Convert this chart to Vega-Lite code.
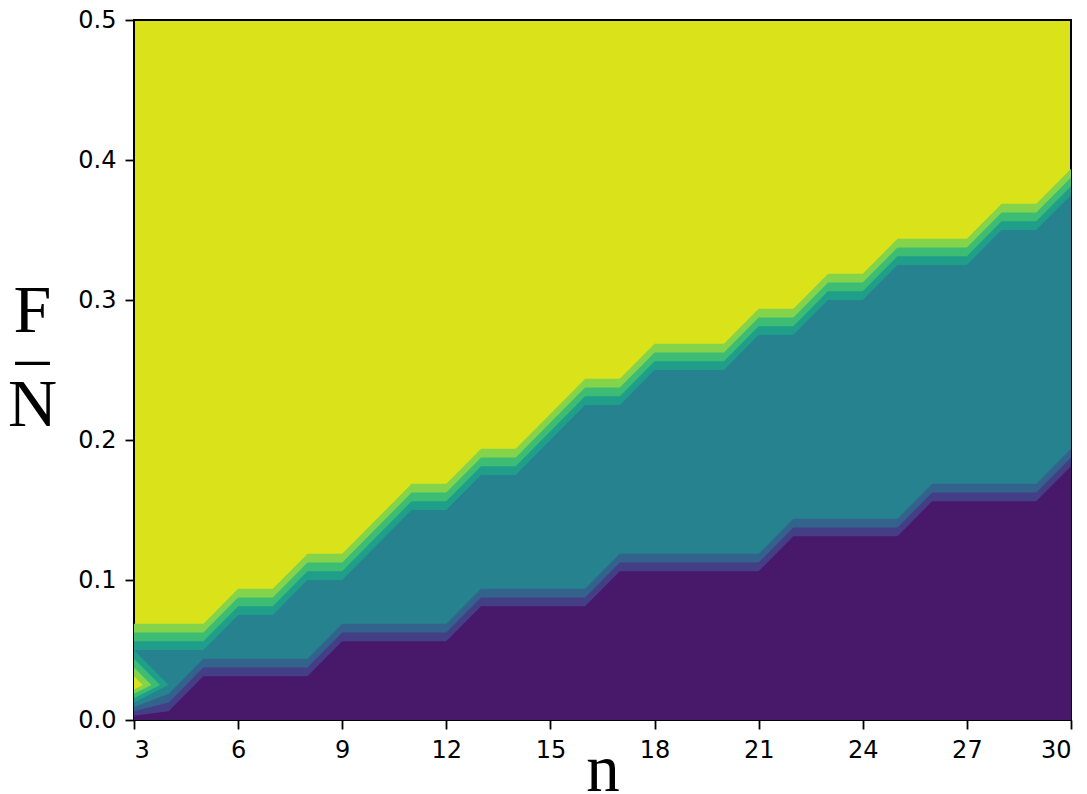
{
  "$schema": "https://vega.github.io/schema/vega-lite/v6.json",
  "autosize": {"type": "none"},
  "width": 937,
  "height": 700,
  "padding": {"left": 134, "top": 20, "right": 16, "bottom": 74},
  "background": "white",
  "config": {
    "view": {"stroke": "black", "strokeWidth": 2, "fill": "#dae219"},
    "axis": {
      "domain": false,
      "grid": false,
      "tickColor": "black",
      "tickWidth": 1.8,
      "tickSize": 9,
      "labelFont": "DejaVu Sans",
      "labelFontSize": 24,
      "labelColor": "black",
      "titleColor": "black",
      "titleFontWeight": "normal"
    }
  },
  "datasets": {
    "bounds": [
      {"n": 3, "u50": 0.05, "u625": 0.05625, "u75": 0.0625, "u875": 0.06875, "d125": 0.003125, "d25": 0.00625, "d375": 0.009375},
      {"n": 4, "u50": 0.05, "u625": 0.05625, "u75": 0.0625, "u875": 0.06875, "d125": 0.00625, "d25": 0.0125, "d375": 0.01875},
      {"n": 5, "u50": 0.05, "u625": 0.05625, "u75": 0.0625, "u875": 0.06875, "d125": 0.03125, "d25": 0.0375, "d375": 0.04375},
      {"n": 6, "u50": 0.075, "u625": 0.08125, "u75": 0.0875, "u875": 0.09375, "d125": 0.03125, "d25": 0.0375, "d375": 0.04375},
      {"n": 7, "u50": 0.075, "u625": 0.08125, "u75": 0.0875, "u875": 0.09375, "d125": 0.03125, "d25": 0.0375, "d375": 0.04375},
      {"n": 8, "u50": 0.1, "u625": 0.10625, "u75": 0.1125, "u875": 0.11875, "d125": 0.03125, "d25": 0.0375, "d375": 0.04375},
      {"n": 9, "u50": 0.1, "u625": 0.10625, "u75": 0.1125, "u875": 0.11875, "d125": 0.05625, "d25": 0.0625, "d375": 0.06875},
      {"n": 10, "u50": 0.125, "u625": 0.13125, "u75": 0.1375, "u875": 0.14375, "d125": 0.05625, "d25": 0.0625, "d375": 0.06875},
      {"n": 11, "u50": 0.15, "u625": 0.15625, "u75": 0.1625, "u875": 0.16875, "d125": 0.05625, "d25": 0.0625, "d375": 0.06875},
      {"n": 12, "u50": 0.15, "u625": 0.15625, "u75": 0.1625, "u875": 0.16875, "d125": 0.05625, "d25": 0.0625, "d375": 0.06875},
      {"n": 13, "u50": 0.175, "u625": 0.18125, "u75": 0.1875, "u875": 0.19375, "d125": 0.08125, "d25": 0.0875, "d375": 0.09375},
      {"n": 14, "u50": 0.175, "u625": 0.18125, "u75": 0.1875, "u875": 0.19375, "d125": 0.08125, "d25": 0.0875, "d375": 0.09375},
      {"n": 15, "u50": 0.2, "u625": 0.20625, "u75": 0.2125, "u875": 0.21875, "d125": 0.08125, "d25": 0.0875, "d375": 0.09375},
      {"n": 16, "u50": 0.225, "u625": 0.23125, "u75": 0.2375, "u875": 0.24375, "d125": 0.08125, "d25": 0.0875, "d375": 0.09375},
      {"n": 17, "u50": 0.225, "u625": 0.23125, "u75": 0.2375, "u875": 0.24375, "d125": 0.10625, "d25": 0.1125, "d375": 0.11875},
      {"n": 18, "u50": 0.25, "u625": 0.25625, "u75": 0.2625, "u875": 0.26875, "d125": 0.10625, "d25": 0.1125, "d375": 0.11875},
      {"n": 19, "u50": 0.25, "u625": 0.25625, "u75": 0.2625, "u875": 0.26875, "d125": 0.10625, "d25": 0.1125, "d375": 0.11875},
      {"n": 20, "u50": 0.25, "u625": 0.25625, "u75": 0.2625, "u875": 0.26875, "d125": 0.10625, "d25": 0.1125, "d375": 0.11875},
      {"n": 21, "u50": 0.275, "u625": 0.28125, "u75": 0.2875, "u875": 0.29375, "d125": 0.10625, "d25": 0.1125, "d375": 0.11875},
      {"n": 22, "u50": 0.275, "u625": 0.28125, "u75": 0.2875, "u875": 0.29375, "d125": 0.13125, "d25": 0.1375, "d375": 0.14375},
      {"n": 23, "u50": 0.3, "u625": 0.30625, "u75": 0.3125, "u875": 0.31875, "d125": 0.13125, "d25": 0.1375, "d375": 0.14375},
      {"n": 24, "u50": 0.3, "u625": 0.30625, "u75": 0.3125, "u875": 0.31875, "d125": 0.13125, "d25": 0.1375, "d375": 0.14375},
      {"n": 25, "u50": 0.325, "u625": 0.33125, "u75": 0.3375, "u875": 0.34375, "d125": 0.13125, "d25": 0.1375, "d375": 0.14375},
      {"n": 26, "u50": 0.325, "u625": 0.33125, "u75": 0.3375, "u875": 0.34375, "d125": 0.15625, "d25": 0.1625, "d375": 0.16875},
      {"n": 27, "u50": 0.325, "u625": 0.33125, "u75": 0.3375, "u875": 0.34375, "d125": 0.15625, "d25": 0.1625, "d375": 0.16875},
      {"n": 28, "u50": 0.35, "u625": 0.35625, "u75": 0.3625, "u875": 0.36875, "d125": 0.15625, "d25": 0.1625, "d375": 0.16875},
      {"n": 29, "u50": 0.35, "u625": 0.35625, "u75": 0.3625, "u875": 0.36875, "d125": 0.15625, "d25": 0.1625, "d375": 0.16875},
      {"n": 30, "u50": 0.375, "u625": 0.38125, "u75": 0.3875, "u875": 0.39375, "d125": 0.18125, "d25": 0.1875, "d375": 0.19375}
    ],
    "spot": [
      {"n": 3, "level": 0.5, "lo": 0.0125, "hi": 0.05},
      {"n": 4, "level": 0.5, "lo": 0.025, "hi": 0.025},
      {"n": 3, "level": 0.625, "lo": 0.015625, "hi": 0.04375},
      {"n": 3.75, "level": 0.625, "lo": 0.025, "hi": 0.025},
      {"n": 3, "level": 0.75, "lo": 0.01875, "hi": 0.0375},
      {"n": 3.5, "level": 0.75, "lo": 0.025, "hi": 0.025},
      {"n": 3, "level": 0.875, "lo": 0.021875, "hi": 0.03125},
      {"n": 3.25, "level": 0.875, "lo": 0.025, "hi": 0.025}
    ]
  },
  "encoding": {
    "x": {
      "field": "n", "type": "quantitative",
      "scale": {"domain": [3, 30], "nice": false, "zero": false},
      "axis": {
        "values": [3, 6, 9, 12, 15, 18, 21, 24, 27, 30],
        "labelPadding": 9,
        "title": "n",
        "titleFont": "Liberation Serif",
        "titleFontSize": 67,
        "titleBaseline": "alphabetic",
        "titleY": 70
      }
    }
  },
  "layer": [
    {
      "data": {"name": "bounds"},
      "mark": {"type": "area", "color": "#84d44b", "interpolate": "linear"},
      "encoding": {
        "y": {"field": "u875", "type": "quantitative", "scale": {"domain": [0, 0.5], "nice": false},
          "axis": {
            "values": [0, 0.1, 0.2, 0.3, 0.4, 0.5],
            "format": ".1f",
            "labelPadding": 9,
            "title": ["F", "–", "N"],
            "titleAngle": 0,
            "titleFont": "Liberation Serif",
            "titleFontSize": 68,
            "titleLineHeight": 47,
            "titleAlign": "center",
            "titleBaseline": "middle",
            "titleX": -102,
            "titleY": 291
          }
        },
        "y2": {"datum": 0}
      }
    },
    {
      "data": {"name": "bounds"},
      "mark": {"type": "area", "color": "#3dbc74"},
      "encoding": {"y": {"field": "u75", "type": "quantitative"}, "y2": {"datum": 0}}
    },
    {
      "data": {"name": "bounds"},
      "mark": {"type": "area", "color": "#1f9e89"},
      "encoding": {"y": {"field": "u625", "type": "quantitative"}, "y2": {"datum": 0}}
    },
    {
      "data": {"name": "bounds"},
      "mark": {"type": "area", "color": "#26828e"},
      "encoding": {"y": {"field": "u50", "type": "quantitative"}, "y2": {"datum": 0}}
    },
    {
      "data": {"name": "bounds"},
      "mark": {"type": "area", "color": "#33638d"},
      "encoding": {"y": {"field": "d375", "type": "quantitative"}, "y2": {"datum": 0}}
    },
    {
      "data": {"name": "bounds"},
      "mark": {"type": "area", "color": "#433e85"},
      "encoding": {"y": {"field": "d25", "type": "quantitative"}, "y2": {"datum": 0}}
    },
    {
      "data": {"name": "bounds"},
      "mark": {"type": "area", "color": "#48186a"},
      "encoding": {"y": {"field": "d125", "type": "quantitative"}, "y2": {"datum": 0}}
    },
    {
      "data": {"name": "spot"},
      "transform": [{"filter": "datum.level == 0.5"}],
      "mark": {"type": "area", "color": "#1f9e89"},
      "encoding": {"y": {"field": "lo", "type": "quantitative"}, "y2": {"field": "hi"}}
    },
    {
      "data": {"name": "spot"},
      "transform": [{"filter": "datum.level == 0.625"}],
      "mark": {"type": "area", "color": "#3dbc74"},
      "encoding": {"y": {"field": "lo", "type": "quantitative"}, "y2": {"field": "hi"}}
    },
    {
      "data": {"name": "spot"},
      "transform": [{"filter": "datum.level == 0.75"}],
      "mark": {"type": "area", "color": "#84d44b"},
      "encoding": {"y": {"field": "lo", "type": "quantitative"}, "y2": {"field": "hi"}}
    },
    {
      "data": {"name": "spot"},
      "transform": [{"filter": "datum.level == 0.875"}],
      "mark": {"type": "area", "color": "#dae219"},
      "encoding": {"y": {"field": "lo", "type": "quantitative"}, "y2": {"field": "hi"}}
    }
  ]
}
